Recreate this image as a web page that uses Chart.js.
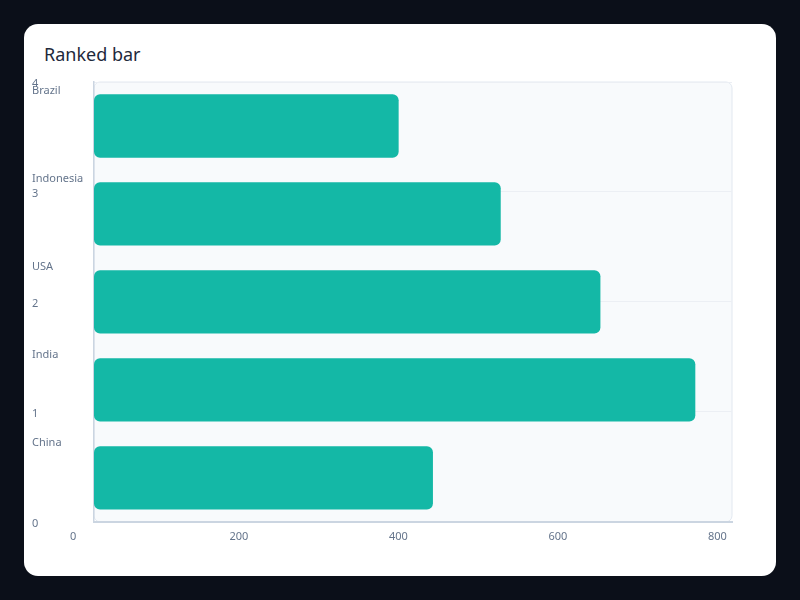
<!DOCTYPE html>
<html>
<head>
<meta charset="utf-8">
<script src="https://cdn.jsdelivr.net/npm/chart.js@4.4.1/dist/chart.umd.min.js"></script>
<style>
  html, body { margin: 0; padding: 0; background: #0b0f19; width: 800px; height: 600px; overflow: hidden; }
  .card { position: absolute; left: 24px; top: 24px; width: 752px; height: 552px; background: #ffffff; border-radius: 14px; }
  .title { position: absolute; left: 44px; top: 42px; font: 18px "Noto Sans", sans-serif; color: #1e293b; line-height: 24px; }
  .wrap { position: absolute; left: 32px; top: 66px; width: 736px; height: 500px; }
</style>
</head>
<body>
<div class="card"></div>
<div class="title">Ranked bar</div>
<div class="wrap"><canvas id="chart"></canvas></div>
<script>
// categories, top to bottom
const countries = ['Brazil', 'Indonesia', 'USA', 'India', 'China'];
const values = [382, 510, 635, 754, 425];
const xTicks = [0, 200, 400, 600, 800];
const rankTicks = [0, 1, 2, 3, 4];

const tickColor = '#64748b';
const tickFont = { family: 'Noto Sans', size: 11 };

// light panel behind the plot area
const plotBg = {
    id: 'plotBg',
    beforeDraw(chart) {
        const { ctx, chartArea: a } = chart;
        ctx.save();
        ctx.beginPath();
        ctx.roundRect(a.left, a.top, a.right - a.left, a.bottom - a.top, 6);
        ctx.fillStyle = '#f8fafc';
        ctx.fill();
        ctx.strokeStyle = '#e2e8f0';
        ctx.lineWidth = 1;
        ctx.stroke();
        ctx.restore();
    }
};

new Chart(document.getElementById('chart'), {
    type: 'bar',
    data: {
        labels: countries,
        datasets: [{
            data: values,
            backgroundColor: '#14b8a6',
            borderRadius: 6,
            borderSkipped: false,
            categoryPercentage: 0.8,
            barPercentage: 0.9,
        }]
    },
    options: {
        indexAxis: 'y',
        responsive: true,
        maintainAspectRatio: false,
        animation: false,
        layout: { padding: { top: 16, right: 36, bottom: 15, left: 0 } },
        plugins: {
            legend: { display: false },
            tooltip: { enabled: false },
        },
        scales: {
            x: {
                min: 0,
                max: 800,
                afterBuildTicks: scale => { scale.ticks = xTicks.map(v => ({ value: v })); },
                grid: { display: false, drawTicks: false },
                border: { display: true, color: '#cbd5e1', width: 2 },
                ticks: { color: tickColor, font: tickFont, padding: 8, align: 'start', labelOffset: -24 },
            },
            y: {
                type: 'category',
                position: 'left',
                grid: { display: false, drawTicks: false },
                border: { display: true, color: '#cbd5e1', width: 1.5 },
                ticks: { color: tickColor, font: tickFont, crossAlign: 'far', labelOffset: -35 },
                afterFit: scale => { scale.width = 62; },
            },
            rank: {
                type: 'linear',
                position: 'left',
                weight: 10,
                min: 0,
                max: 4,
                offset: false,
                afterBuildTicks: scale => { scale.ticks = rankTicks.map(v => ({ value: v })); },
                grid: { color: '#eceff4', drawTicks: false, offset: false },
                border: { display: false },
                ticks: { color: tickColor, font: tickFont, mirror: true, padding: 0, labelOffset: 2 },
                afterFit: scale => { scale.width = 0; },
            }
        }
    },
    plugins: [plotBg]
});
</script>
</body>
</html>
